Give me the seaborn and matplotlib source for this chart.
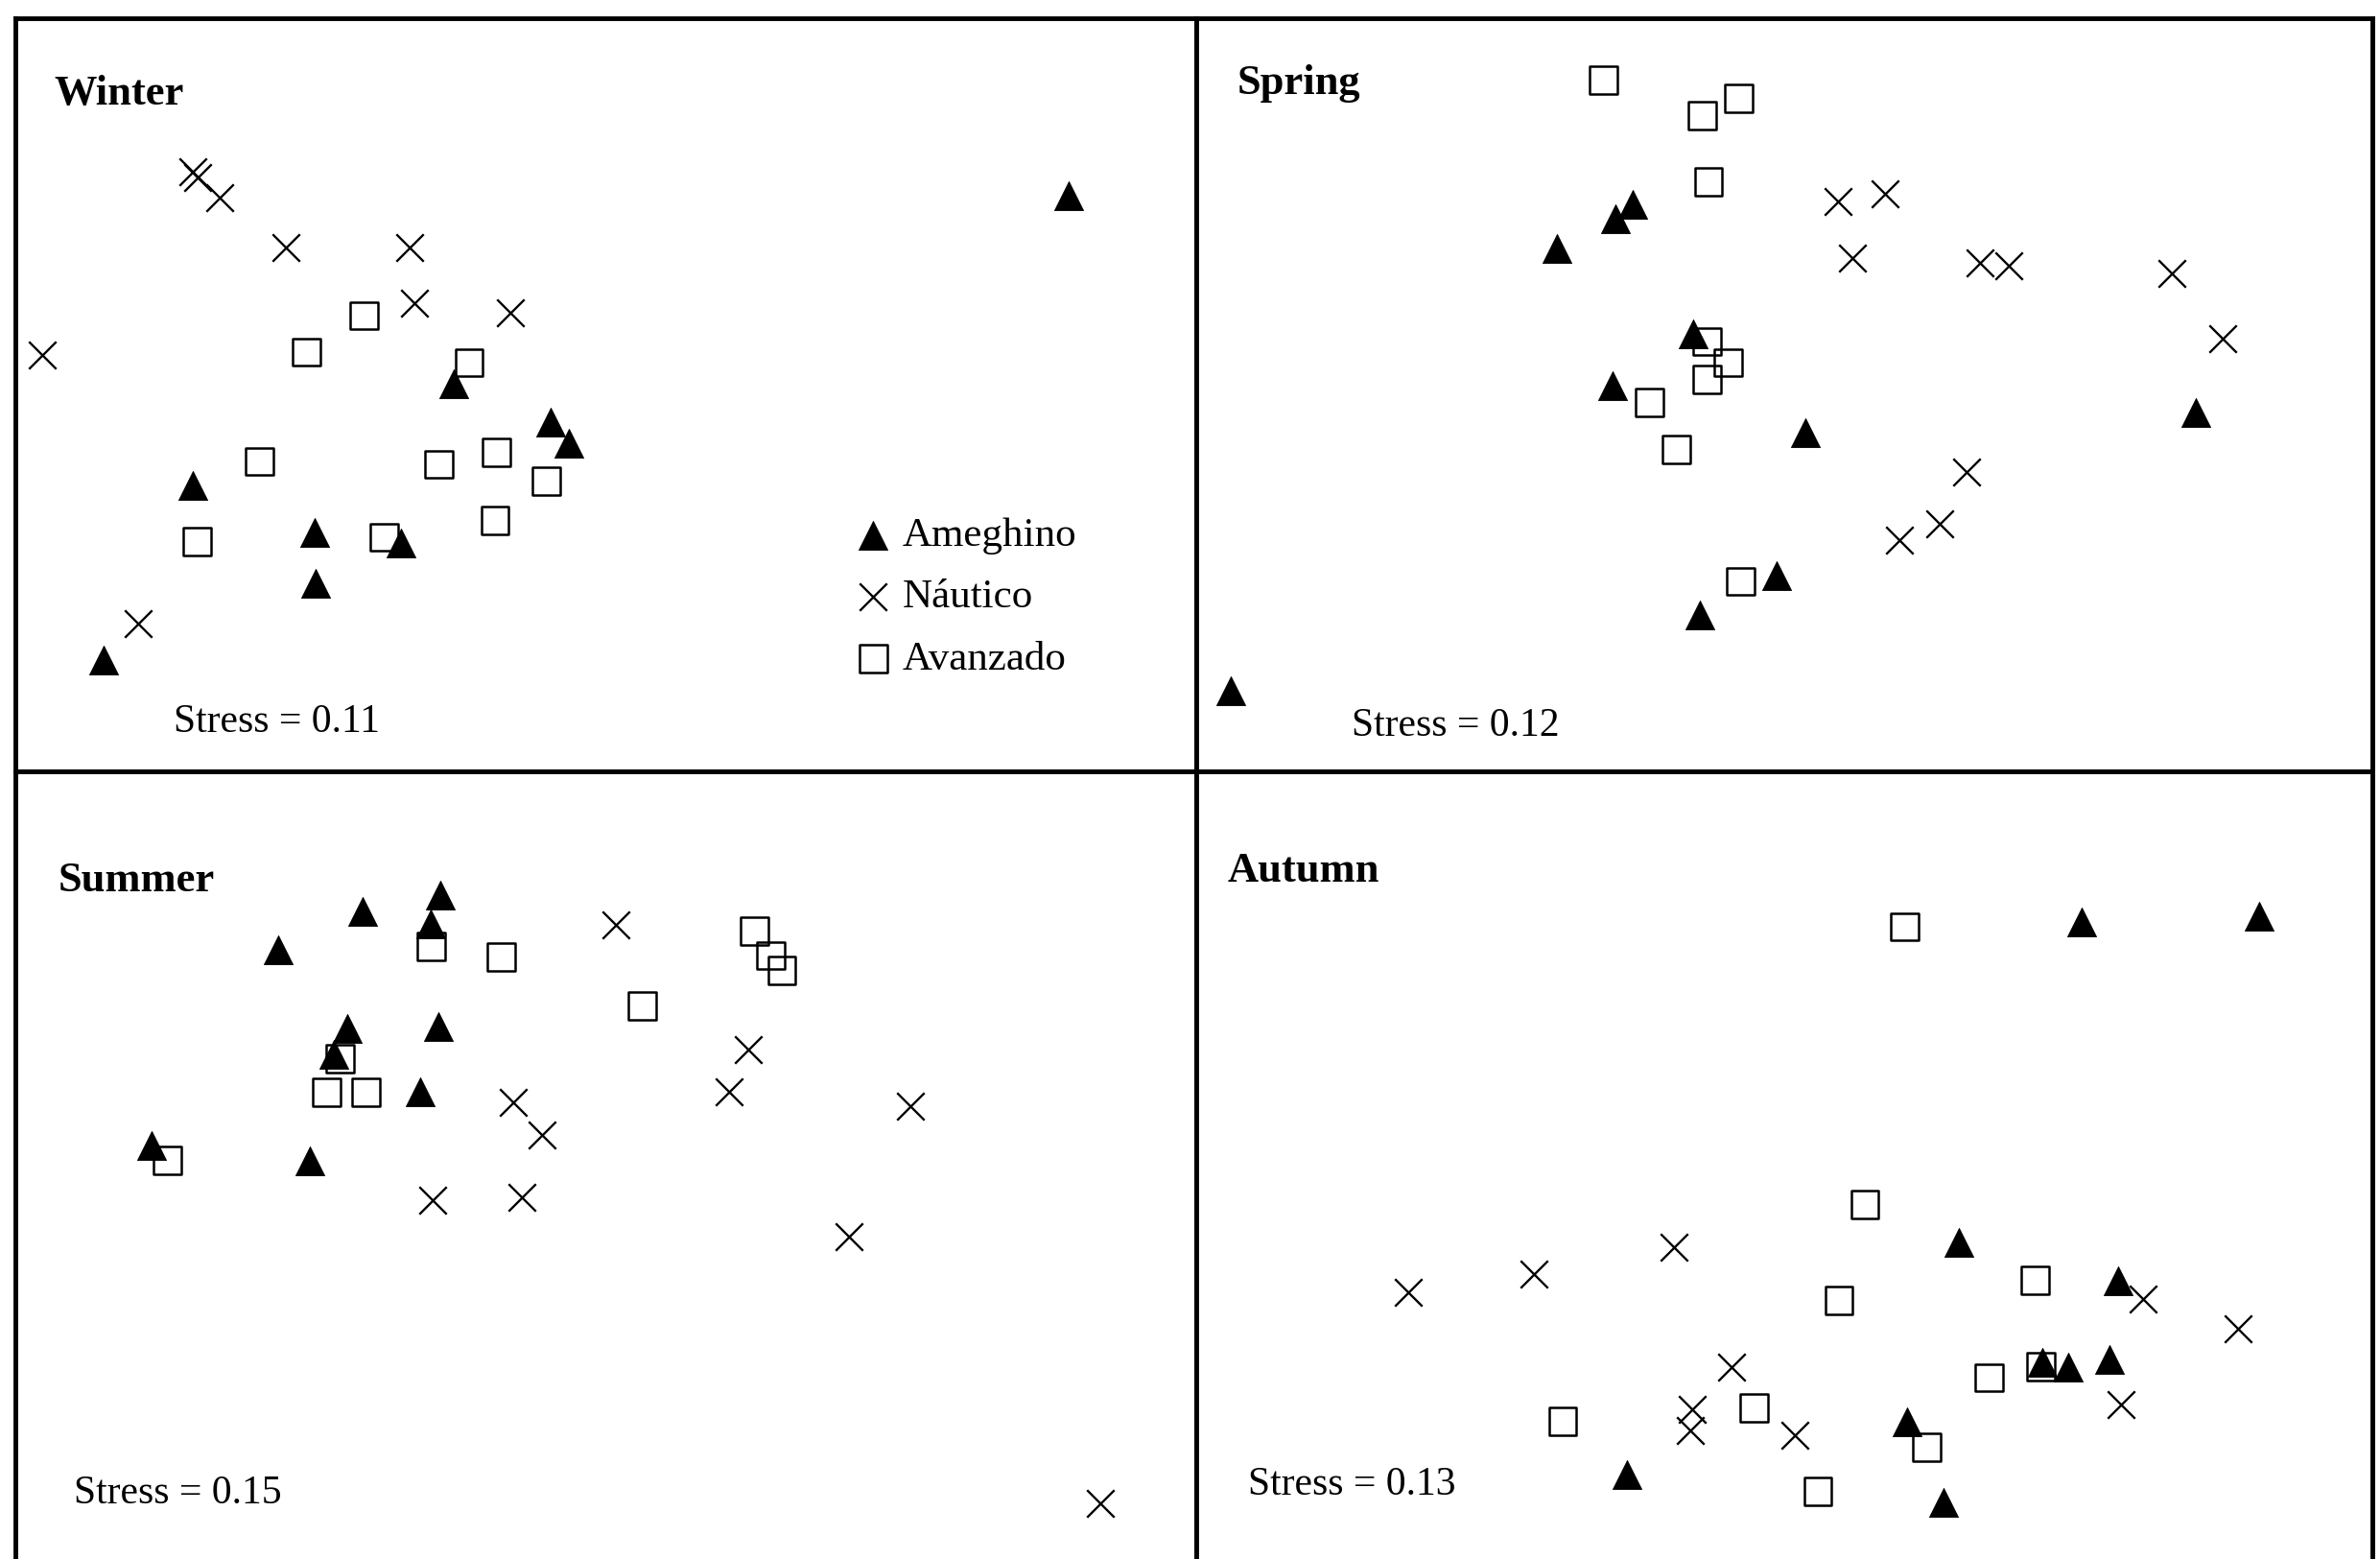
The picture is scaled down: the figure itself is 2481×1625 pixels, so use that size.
import pandas as pd
import matplotlib.pyplot as plt
import seaborn as sns

# NMDS ordination of the three sites, one panel per season
sites = ['Ameghino', 'Náutico', 'Avanzado']
seasons = ['Winter', 'Spring', 'Summer', 'Autumn']
stress = [0.11, 0.12, 0.15, 0.13]

# Winter
winter_ameghino_x = [3.05, -1.00, -0.36, -0.24, -2.72, -1.92, -1.35, -1.91, -3.31]
winter_ameghino_y = [1.31, 0.07, -0.18, -0.32, -0.60, -0.91, -0.98, -1.24, -1.75]
winter_nautico_x = [-2.72, -2.69, -2.54, -2.11, -1.29, -1.26, -0.63, -3.71, -3.08]
winter_nautico_y = [1.47, 1.43, 1.30, 0.97, 0.97, 0.60, 0.54, 0.26, -1.51]
winter_avanzado_x = [-1.59, -1.97, -0.90, -2.28, -1.10, -0.72, -0.39, -2.69, -1.46, -0.73]
winter_avanzado_y = [0.52, 0.28, 0.21, -0.44, -0.46, -0.38, -0.57, -0.97, -0.94, -0.83]

# Spring
spring_ameghino_x = [-1.00, -1.11, -1.50, -0.60, -1.13, 0.14, 2.71, -0.05, -0.56, -3.65]
spring_ameghino_y = [1.25, 1.16, 0.96, 0.40, 0.06, -0.25, -0.12, -1.19, -1.45, -1.95]
spring_nautico_x = [0.35, 0.66, 0.45, 1.29, 1.48, 2.55, 2.89, 1.20, 1.02, 0.76]
spring_nautico_y = [1.27, 1.32, 0.90, 0.87, 0.85, 0.80, 0.37, -0.51, -0.85, -0.96]
spring_avanzado_x = [-1.19, -0.30, -0.54, -0.50, -0.51, -0.37, -0.51, -0.89, -0.71, -0.29]
spring_avanzado_y = [2.07, 1.95, 1.84, 1.40, 0.35, 0.21, 0.10, -0.05, -0.36, -1.23]

# Summer
summer_ameghino_x = [-1.09, -1.60, -1.15, -2.16, -1.70, -1.10, -1.79, -1.22, -2.99, -1.95]
summer_ameghino_y = [1.78, 1.67, 1.59, 1.42, 0.90, 0.91, 0.73, 0.48, 0.13, 0.03]
summer_nautico_x = [0.07, 0.94, 0.81, 2.01, -0.61, -0.42, -1.14, -0.55, 1.60, 3.26]
summer_nautico_y = [1.58, 0.76, 0.48, 0.39, 0.41, 0.20, -0.23, -0.21, -0.47, -2.23]
summer_avanzado_x = [-1.15, -0.69, 0.98, 1.09, 1.16, 0.24, -1.75, -1.84, -1.58, -2.89]
summer_avanzado_y = [1.44, 1.37, 1.54, 1.38, 1.28, 1.05, 0.70, 0.48, 0.48, 0.03]

# Autumn
autumn_ameghino_x = [1.96, 3.13, 1.15, 2.20, 1.70, 1.87, 2.14, 0.81, -1.04, 1.05]
autumn_ameghino_y = [1.60, 1.64, -0.51, -0.76, -1.30, -1.33, -1.28, -1.69, -2.04, -2.22]
autumn_nautico_x = [-2.48, -1.65, -0.73, 2.36, 2.99, -0.35, -0.61, -0.62, 0.07, 2.22]
autumn_nautico_y = [-0.84, -0.72, -0.54, -0.88, -1.08, -1.33, -1.61, -1.75, -1.78, -1.58]
autumn_avanzado_x = [0.79, 0.53, 0.36, 1.65, 1.35, 1.69, -0.20, -1.46, 0.94, 0.22]
autumn_avanzado_y = [1.57, -0.26, -0.89, -0.76, -1.40, -1.33, -1.60, -1.69, -1.86, -2.15]

coords = {
    ('Winter', 'Ameghino'): (winter_ameghino_x, winter_ameghino_y),
    ('Winter', 'Náutico'): (winter_nautico_x, winter_nautico_y),
    ('Winter', 'Avanzado'): (winter_avanzado_x, winter_avanzado_y),
    ('Spring', 'Ameghino'): (spring_ameghino_x, spring_ameghino_y),
    ('Spring', 'Náutico'): (spring_nautico_x, spring_nautico_y),
    ('Spring', 'Avanzado'): (spring_avanzado_x, spring_avanzado_y),
    ('Summer', 'Ameghino'): (summer_ameghino_x, summer_ameghino_y),
    ('Summer', 'Náutico'): (summer_nautico_x, summer_nautico_y),
    ('Summer', 'Avanzado'): (summer_avanzado_x, summer_avanzado_y),
    ('Autumn', 'Ameghino'): (autumn_ameghino_x, autumn_ameghino_y),
    ('Autumn', 'Náutico'): (autumn_nautico_x, autumn_nautico_y),
    ('Autumn', 'Avanzado'): (autumn_avanzado_x, autumn_avanzado_y),
}

rows = []
for (season, site), (xs, ys) in coords.items():
    for x, y in zip(xs, ys):
        rows.append({'season': season, 'site': site, 'NMDS1': x, 'NMDS2': y})
df = pd.DataFrame(rows)

sns.set_style('white')
plt.rcParams['font.family'] = ['Liberation Serif', 'DejaVu Serif']
plt.rcParams['text.color'] = 'black'

fig = plt.figure(figsize=(24.81, 16.25), dpi=100)

# panel boxes (figure fraction) and half ranges of each panel
panel_pos = {
    'Winter': [0.0064, 0.5054, 0.4962, 0.4830],
    'Spring': [0.5026, 0.5054, 0.4943, 0.4830],
    'Summer': [0.0064, 0.0, 0.4962, 0.5054],
    'Autumn': [0.5026, 0.0, 0.4943, 0.5054],
}
half_x = {'Winter': 3.89, 'Spring': 3.875, 'Summer': 3.89, 'Autumn': 3.875}
half_y = {'Winter': 2.48, 'Spring': 2.48, 'Summer': 2.595, 'Autumn': 2.595}
title_xy = {'Winter': (0.033, 0.899), 'Spring': (0.035, 0.913),
            'Summer': (0.036, 0.861), 'Autumn': (0.027, 0.873)}
stress_xy = {'Winter': (0.134, 0.065), 'Spring': (0.132, 0.060),
             'Summer': (0.050, 0.083), 'Autumn': (0.044, 0.094)}

site_style = {
    'Ameghino': dict(marker='^', color='black', edgecolor='black', linewidth=0.6, s=470, zorder=3),
    'Náutico': dict(marker='x', color='black', linewidth=1.7, s=420, zorder=2.6),
    'Avanzado': dict(marker='s', color='none', edgecolor='black', linewidth=1.8, s=430, zorder=2.5),
}

for season, st in zip(seasons, stress):
    ax = fig.add_axes(panel_pos[season])
    sub = df[df['season'] == season]
    for site in sites:
        d = sub[sub['site'] == site]
        sns.scatterplot(data=d, x='NMDS1', y='NMDS2', ax=ax, label=site,
                        legend=False, **site_style[site])
    ax.set_xlim(-half_x[season], half_x[season])
    ax.set_ylim(-half_y[season], half_y[season])
    ax.set_xticks([])
    ax.set_yticks([])
    ax.set_xlabel('')
    ax.set_ylabel('')
    for sp in ax.spines.values():
        sp.set_linewidth(3.5)
        sp.set_color('black')
    if season in ('Summer', 'Autumn'):
        ax.spines['bottom'].set_visible(False)

    ax.text(*title_xy[season], season, transform=ax.transAxes, fontsize=32,
            fontweight='bold', va='center', ha='left', color='black')
    ax.text(*stress_xy[season], f'Stress = {st:.2f}', transform=ax.transAxes,
            fontsize=30, va='center', ha='left', color='black')

    if season == 'Winter':
        ax.legend(loc='upper left', bbox_to_anchor=(0.709, 0.337), frameon=False,
                  prop={'family': 'Liberation Serif', 'size': 31},
                  labelcolor='black',
                  handlelength=1.0, handletextpad=0.2, labelspacing=0.58,
                  borderpad=0, borderaxespad=0)

fig.savefig('out.png', dpi=100, facecolor='white')
